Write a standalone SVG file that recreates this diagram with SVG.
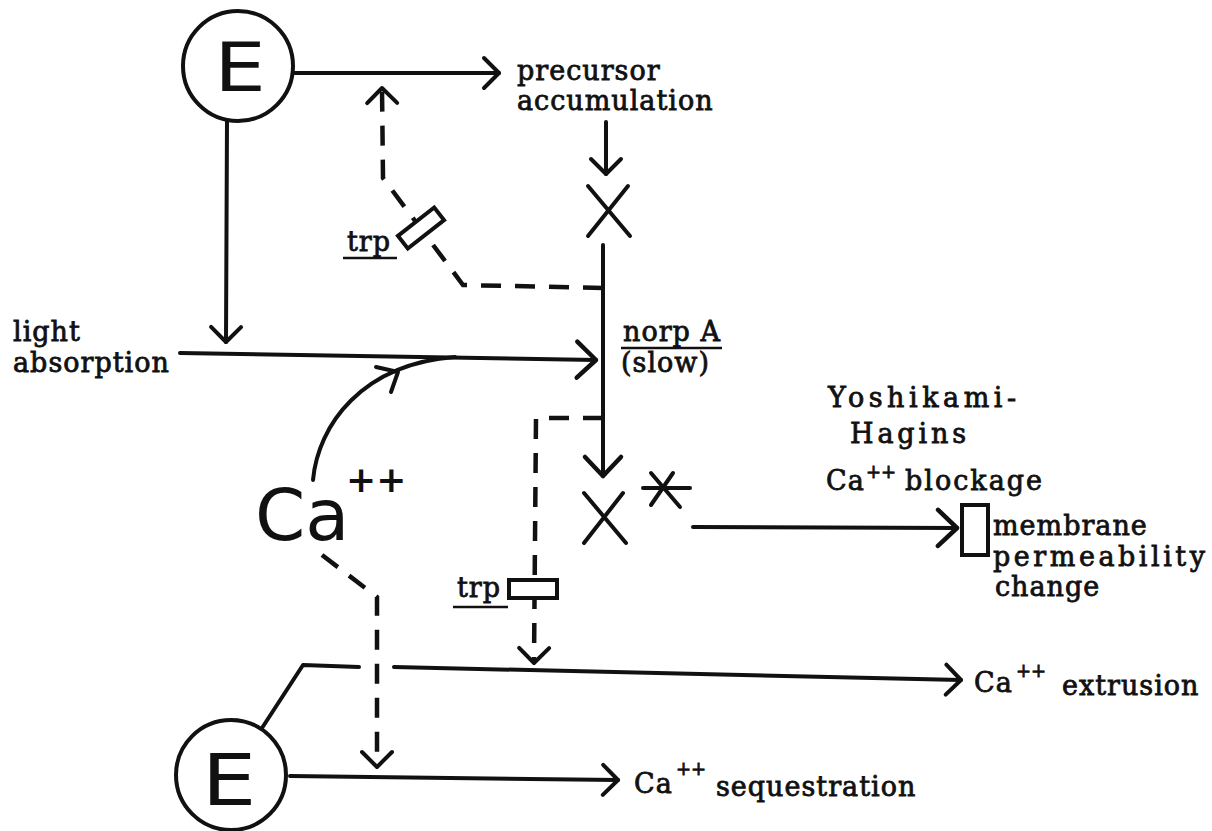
<svg xmlns="http://www.w3.org/2000/svg" width="1212" height="831" viewBox="0 0 1212 831">
<style>
.t{font-family:"DejaVu Serif","Liberation Serif",serif;font-size:27px;letter-spacing:1px;fill:#111;stroke:#111;stroke-width:0.8}
.sup{font-family:"DejaVu Serif","Liberation Serif",serif;font-size:18px;fill:#111;stroke:#111;stroke-width:0.8}
.big{font-family:"DejaVu Sans","Liberation Sans",sans-serif;fill:#111}
.ln{fill:none;stroke:#111;stroke-width:4;stroke-linecap:round;stroke-linejoin:round}
.ds{fill:none;stroke:#111;stroke-width:4.5;stroke-dasharray:20 14}
.ul{stroke:#111;stroke-width:2.5}
.bx{fill:#fff;stroke:#111;stroke-width:4}
</style>
<defs>
<marker id="a" markerUnits="userSpaceOnUse" viewBox="-20 -20 40 40" markerWidth="40" markerHeight="40" refX="0" refY="0" orient="auto" overflow="visible">
<path d="M-15,-15 L0,0 L-15,15" fill="none" stroke="#111" stroke-width="4" stroke-linecap="round" stroke-linejoin="round"/>
</marker>
<marker id="aL" markerUnits="userSpaceOnUse" viewBox="-24 -24 48 48" markerWidth="48" markerHeight="48" refX="0" refY="0" orient="auto" overflow="visible">
<path d="M-19,-18 L0,0 L-19,18" fill="none" stroke="#111" stroke-width="4.5" stroke-linecap="round" stroke-linejoin="round"/>
</marker>
</defs>

<g id="connectors">
<path class="ln" d="M295,73 L499,73" marker-end="url(#a)"/>
<path class="ln" d="M227,120 L226,342" marker-end="url(#a)"/>
<path class="ln" d="M606,122 L606,174" marker-end="url(#a)"/>
<path class="ln" d="M603,245 L603,476" marker-end="url(#aL)"/>
<path class="ln" d="M180,353 L596,360" marker-end="url(#aL)"/>
<path class="ln" d="M313,480 C318,425 362,364 455,357"/>
<path class="ln" d="M376,367 L398,372 L391,392"/>
<path class="ln" d="M693,527 L957,528" marker-end="url(#aL)"/>
<path class="ds" d="M603,288 L463,285 L383,178 L382,88" marker-end="url(#a)"/>
<path class="ds" d="M603,418 L536,418 L534,663" marker-end="url(#a)"/>
<path class="ds" d="M322,555 L377,597 L377,767" marker-end="url(#a)"/>
<path class="ln" d="M262,728 L303,665 L359,667"/>
<path class="ln" d="M394,667 L961,680" marker-end="url(#a)"/>
<path class="ln" d="M290,776 L618,780" marker-end="url(#a)"/>
</g>

<g id="node-E-top">
<circle cx="238" cy="66" r="55" fill="none" stroke="#111" stroke-width="4"/>
<text class="big" font-size="68" text-anchor="middle" transform="translate(240,91) scale(1.2,1)">E</text>
</g>

<g id="node-E-bottom">
<circle cx="231" cy="775" r="55" fill="none" stroke="#111" stroke-width="4"/>
<text class="big" font-size="72" text-anchor="middle" transform="translate(229,805) scale(1.2,1)">E</text>
</g>

<g id="node-precursor">
<text class="t" x="517" y="80">precursor</text>
<text class="t" x="517" y="110">accumulation</text>
</g>

<g id="node-X">
<path class="ln" d="M588,186 L630,236 M628,186 L588,236"/>
</g>

<g id="node-Xstar">
<path class="ln" d="M584,493 L626,543 M623,493 L584,543"/>
<path class="ln" d="M643,488 L690,488 M651,473 L680,507 M673,473 L651,505"/>
</g>

<g id="node-light">
<text class="t" x="13" y="341">light</text>
<text class="t" x="13" y="372">absorption</text>
</g>

<g id="node-norpA">
<text class="t" x="623" y="341">norp A</text>
<line class="ul" x1="621" y1="348" x2="722" y2="348"/>
<text class="t" x="621" y="372">(slow)</text>
</g>

<g id="node-trp-top">
<rect class="bx" x="-23" y="-8" width="46" height="16" transform="translate(421,228) rotate(-38)"/>
<text class="t" x="347" y="251">trp</text>
<line class="ul" x1="343" y1="258" x2="397" y2="258"/>
</g>

<g id="node-trp-bottom">
<rect class="bx" x="509" y="580" width="48" height="18"/>
<text class="t" x="457" y="597">trp</text>
<line class="ul" x1="453" y1="607" x2="508" y2="607"/>
</g>

<g id="node-Ca">
<text class="big" font-size="72" x="255" y="540">Ca</text>
<text class="big" font-size="36" font-weight="bold" x="346" y="492">++</text>
</g>

<g id="node-yoshikami">
<text class="t" x="828" y="407" textLength="189">Yoshikami-</text>
<text class="t" x="850" y="443" textLength="117">Hagins</text>
<text class="t" x="826" y="490">Ca</text>
<text class="sup" x="866" y="478">++</text>
<text class="t" x="905" y="490" textLength="138">blockage</text>
</g>

<g id="node-membrane">
<rect x="962" y="505" width="26" height="50" fill="none" stroke="#111" stroke-width="4"/>
<text class="t" x="993" y="535">membrane</text>
<text class="t" x="993" y="566" textLength="213">permeability</text>
<text class="t" x="995" y="596">change</text>
</g>

<g id="node-extrusion">
<text class="t" x="974" y="692">Ca</text>
<text class="sup" x="1016" y="677">++</text>
<text class="t" x="1062" y="695">extrusion</text>
</g>

<g id="node-sequestration">
<text class="t" x="634" y="793">Ca</text>
<text class="sup" x="676" y="775">++</text>
<text class="t" x="716" y="796">sequestration</text>
</g>
</svg>
